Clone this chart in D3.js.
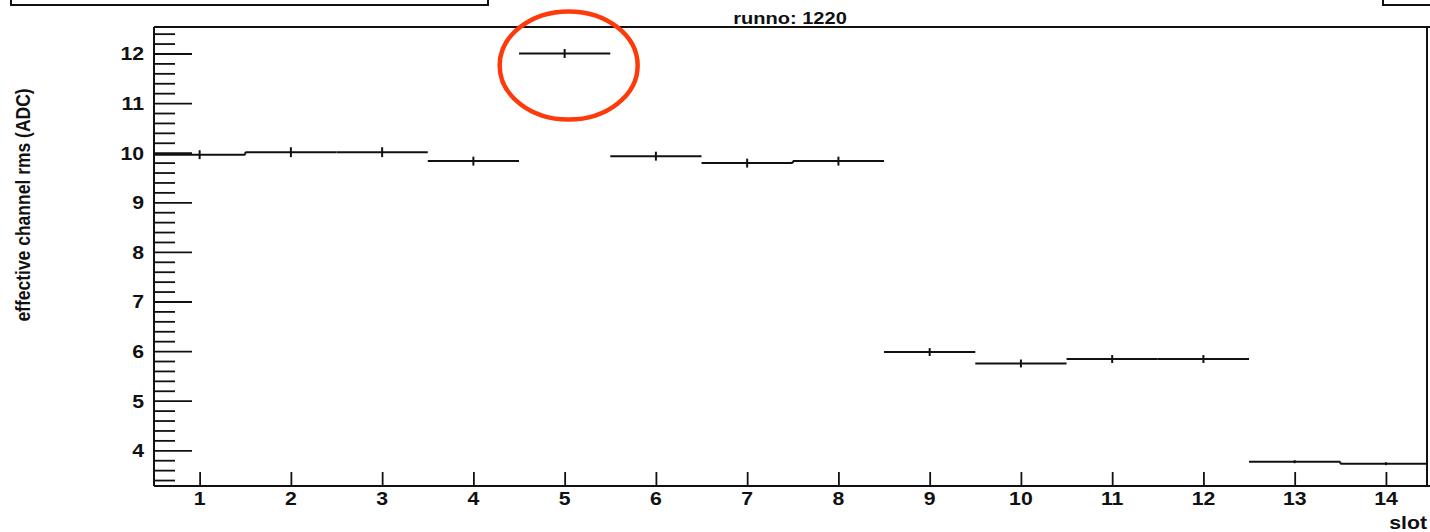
<!DOCTYPE html>
<html>
<head>
<meta charset="utf-8">
<script src="https://cdn.jsdelivr.net/npm/d3@7"></script>
<style>
  html, body { margin: 0; padding: 0; background: #fff; }
  svg { display: block; }
  text { font-family: "Liberation Sans", Arial, Helvetica, sans-serif; font-weight: bold; fill: #111; }
</style>
</head>
<body>
<svg id="chart" width="1430" height="532"></svg>
<script>
// Effective channel rms per slot, run 1220
const slots = [1, 2, 3, 4, 5, 6, 7, 8, 9, 10, 11, 12, 13, 14];
const rmsValues = [9.96, 10.01, 10.01, 9.83, 12.0, 9.93, 9.79, 9.83, 5.98, 5.75, 5.84, 5.84, 3.77, 3.73];
const rmsErrors = [0.09, 0.1, 0.1, 0.09, 0.09, 0.09, 0.09, 0.09, 0.08, 0.08, 0.08, 0.08, 0.03, 0.03];
const yMajorTicks = [4, 5, 6, 7, 8, 9, 10, 11, 12];
const xTickLabels = ["1", "2", "3", "4", "5", "6", "7", "8", "9", "10", "11", "12", "13", "14"];
const titleText = "runno: 1220";
const yTitle = "effective channel rms (ADC)";
const xTitle = "slot";
const highlightSlot = 5;

const svg = d3.select("#chart");
const frame = { left: 154, right: 1427, top: 27, bottom: 486 };
const stretch = 1.18; // glyphs are drawn slightly wide

const x = d3.scaleLinear().domain([0.5, 14.45]).range([frame.left, frame.right]);
const y = d3.scaleLinear().domain([3.28, 12.534]).range([frame.bottom, frame.top]);

const ink = "#111";

// title boxes along the top edge
svg.append("rect").attr("x", 11).attr("y", -20).attr("width", 477).attr("height", 25)
  .attr("fill", "none").attr("stroke", ink).attr("stroke-width", 2);
svg.append("rect").attr("x", 1383).attr("y", -20).attr("width", 60).attr("height", 25)
  .attr("fill", "none").attr("stroke", ink).attr("stroke-width", 2);

// plot frame
const fr = svg.append("g").attr("stroke", ink).attr("stroke-width", 2).attr("fill", "none");
fr.append("line").attr("x1", frame.left).attr("x2", 1432).attr("y1", frame.top).attr("y2", frame.top);
fr.append("line").attr("x1", frame.right).attr("x2", frame.right).attr("y1", frame.top).attr("y2", frame.bottom);
fr.append("line").attr("x1", frame.left).attr("x2", frame.left).attr("y1", frame.top).attr("y2", frame.bottom);
fr.append("line").attr("x1", frame.left).attr("x2", 1432).attr("y1", frame.bottom).attr("y2", frame.bottom);

// y axis: major and minor ticks pointing into the plot
const yMinor = d3.range(34, 125, 2).map(d => d / 10).filter(d => !yMajorTicks.includes(d));
const yMinorAxis = d3.axisLeft(y).tickValues(yMinor).tickSizeInner(-21).tickSizeOuter(0).tickFormat("");
const yMajorAxis = d3.axisLeft(y).tickValues(yMajorTicks).tickSizeInner(-38).tickSizeOuter(0).tickFormat("");
[yMinorAxis, yMajorAxis].forEach(ax => {
  const g = svg.append("g").attr("transform", `translate(${frame.left},0)`).call(ax);
  g.select(".domain").remove();
  g.selectAll(".tick line").attr("stroke", ink).attr("stroke-width", 1.8);
});

// x axis: major ticks pointing up
const xAxis = d3.axisBottom(x).tickValues(slots).tickSizeInner(-14).tickSizeOuter(0).tickFormat("");
const gx = svg.append("g").attr("transform", `translate(0,${frame.bottom})`).call(xAxis);
gx.select(".domain").remove();
gx.selectAll(".tick line").attr("stroke", ink).attr("stroke-width", 1.8);

function label(str, px, py, size, anchor, rotate) {
  const g = svg.append("g").attr("transform", `translate(${px},${py}) scale(${stretch},1)` + (rotate ? ` rotate(${rotate})` : ""));
  g.append("text").attr("text-anchor", anchor).attr("font-size", size).text(str);
}

// tick labels
yMajorTicks.forEach(v => label(String(v), 144, y(v) + 7, 18, "end"));
slots.forEach((s, i) => label(xTickLabels[i], x(s), 505, 18, "middle"));

// titles
label(titleText, 790, 24, 17, "middle");
label(xTitle, 1427, 529, 18, "end");
label(yTitle, 29.5, 205, 17.5, "middle", -90);

// histogram bins: horizontal bin-width line plus vertical error bar
const bins = svg.append("g").attr("stroke", ink).attr("stroke-width", 2).attr("fill", "none");
slots.forEach((s, i) => {
  const v = rmsValues[i], e = rmsErrors[i];
  bins.append("line").attr("x1", x(s - 0.5)).attr("x2", Math.min(x(s + 0.5), frame.right))
    .attr("y1", y(v)).attr("y2", y(v));
  bins.append("line").attr("x1", x(s)).attr("x2", x(s))
    .attr("y1", y(v + e)).attr("y2", y(v - e));
});

// join neighbouring bins only where their levels nearly touch
for (let i = 1; i < slots.length; i++) {
  const gap = Math.abs(y(rmsValues[i]) - y(rmsValues[i - 1]));
  if (gap > 0.5 && gap < 3.5) {
    bins.append("line").attr("x1", x(slots[i] - 0.5)).attr("x2", x(slots[i] - 0.5))
      .attr("y1", y(rmsValues[i - 1])).attr("y2", y(rmsValues[i]));
  }
}

// highlight ring around the outlying slot
const hi = slots.indexOf(highlightSlot);
svg.append("ellipse")
  .attr("cx", x(highlightSlot) + 4).attr("cy", y(rmsValues[hi]) + 12)
  .attr("rx", 69).attr("ry", 54)
  .attr("fill", "none").attr("stroke", "#ff3a0a").attr("stroke-width", 4.5);
</script>
</body>
</html>
